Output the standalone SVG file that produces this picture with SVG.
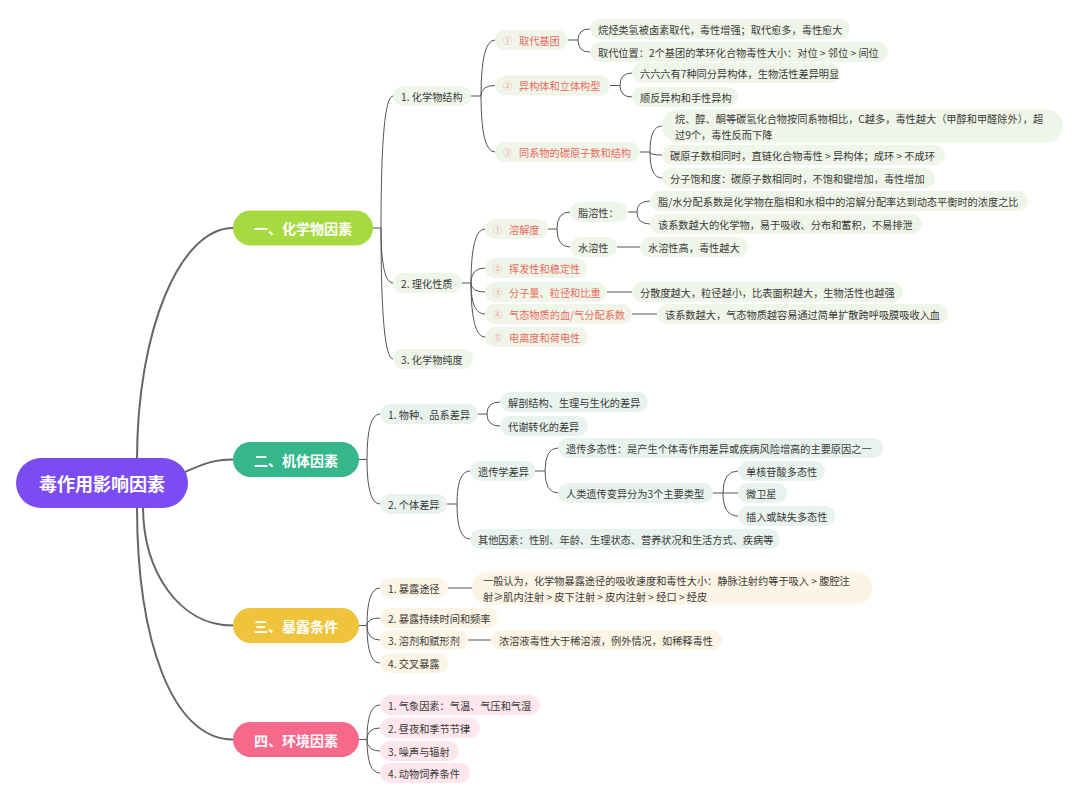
<svg xmlns="http://www.w3.org/2000/svg" width="1080" height="802" viewBox="0 0 1080 802">
<style>
text{font-family:"Noto Sans CJK SC","Noto Sans",sans-serif;dominant-baseline:central}
.t{font-size:10.2px;fill:#3a3a3a}
.r{font-size:10.2px;fill:#ea6b5f}
.n{font-size:9px;fill:#f2a69d}
.mt{font-size:14px;font-weight:bold;fill:#fff;text-anchor:middle}
.rt{font-size:18px;font-weight:bold;fill:#fff;text-anchor:middle}
.g{fill:#eff5e8}.b{fill:#e8f3ee}.y{fill:#fcf4e4}.p{fill:#fde6ec}
.ln{fill:none;stroke:#555;stroke-width:1}
.mn{fill:none;stroke:#666;stroke-width:2}
</style>
<rect width="1080" height="802" fill="#fff"/>
<g id="connectors">
<path class="mn" d="M137 460 C137 330 180 228 233 228"/>
<path class="mn" d="M185 472 C205 463 215 459.5 233 459.5"/>
<path class="mn" d="M143 506 C143 570 178 625.5 233 625.5"/>
<path class="mn" d="M137 506 C137 640 172 739.5 233 739.5"/>
<path class="ln" d="M373 228 H381 M381 228 Q381 96 393 96 M381 228 Q381 283 393 283 M381 228 Q381 359 393 359"/>
<path class="ln" d="M471 96 H481 M481 96 Q481 40 495 40 M481 96 Q481 85.5 495 85.5 M481 96 Q481 152 495 152"/>
<path class="ln" d="M568 40 H578 M578 40 Q578 29 590 29 M578 40 Q578 52 590 52"/>
<path class="ln" d="M610 85.5 H620 M620 85.5 Q620 73 632 73 M620 85.5 Q620 97 632 97"/>
<path class="ln" d="M640 152 H650 M650 152 Q650 126 662 126 M650 152 Q650 155 662 155 M650 152 Q650 178 662 178"/>
<path class="ln" d="M462 283 H471 M471 283 Q471 229 485 229 M471 283 Q471 268 485 268 M471 283 Q471 292 485 292 M471 283 Q471 314 485 314 M471 283 Q471 337 485 337"/>
<path class="ln" d="M548 229 H557 M557 229 Q557 212 570 212 M557 229 Q557 247 570 247"/>
<path class="ln" d="M628 212 H637 M637 212 Q637 201 650 201 M637 212 Q637 224 650 224"/>
<path class="ln" d="M617 247 H640 M607 292 H632 M632 314 H657"/>
<path class="ln" d="M359 459.5 H367 M367 459.5 Q367 414 380 414 M367 459.5 Q367 504 380 504"/>
<path class="ln" d="M478 414 H487 M487 414 Q487 402 500 402 M487 414 Q487 426 500 426"/>
<path class="ln" d="M447 504 H457 M457 504 Q457 471 470 471 M457 504 Q457 539 470 539"/>
<path class="ln" d="M535 471 H545 M545 471 Q545 448 558 448 M545 471 Q545 493 558 493"/>
<path class="ln" d="M713 493 H723 M723 493 Q723 471 738 471 M723 493 Q723 493 738 493 M723 493 Q723 516 738 516"/>
<path class="ln" d="M359 625.5 H367 M367 625.5 Q367 588 380 588 M367 625.5 Q367 618 380 618 M367 625.5 Q367 640 380 640 M367 625.5 Q367 663 380 663"/>
<path class="ln" d="M448 588 H472 M468 640 H491"/>
<path class="ln" d="M359 739.5 H367 M367 739.5 Q367 705 380 705 M367 739.5 Q367 728 380 728 M367 739.5 Q367 751 380 751 M367 739.5 Q367 773 380 773"/>
</g>
<g id="root"><rect x="16" y="458" width="172" height="50" rx="25" fill="#7c4cf3"/><text class="rt" x="102" y="483">毒作用影响因素</text></g>
<g id="m1"><rect x="233" y="210.5" width="140" height="35" rx="17.5" fill="#a7da40"/><text class="mt" x="303" y="228">一、化学物因素</text></g>
<g id="m2"><rect x="233" y="442" width="126" height="35" rx="17.5" fill="#35b78b"/><text class="mt" x="296" y="459.5">二、机体因素</text></g>
<g id="m3"><rect x="233" y="608" width="126" height="35" rx="17.5" fill="#f0c33c"/><text class="mt" x="296" y="625.5">三、暴露条件</text></g>
<g id="m4"><rect x="233" y="722" width="126" height="35" rx="17.5" fill="#f7698b"/><text class="mt" x="296" y="739.5">四、环境因素</text></g>

<g id="a1"><rect class="g" x="393" y="86" width="78" height="20" rx="10"/><text class="t" x="401" y="96">1. 化学物结构</text></g>
<g id="a2"><rect class="g" x="393" y="273" width="69" height="20" rx="10"/><text class="t" x="401" y="283">2. 理化性质</text></g>
<g id="a3"><rect class="g" x="393" y="349" width="80" height="20" rx="10"/><text class="t" x="401" y="359">3. 化学物纯度</text></g>

<g id="b1"><rect class="g" x="495" y="30" width="73" height="20" rx="10"/><text class="n" x="503" y="40">①</text><text class="r" x="519" y="40">取代基团</text></g>
<g id="b2"><rect class="g" x="495" y="75.5" width="115" height="20" rx="10"/><text class="n" x="503" y="85.5">②</text><text class="r" x="519" y="85.5">异构体和立体构型</text></g>
<g id="b3"><rect class="g" x="495" y="142" width="145" height="20" rx="10"/><text class="n" x="503" y="152">③</text><text class="r" x="519" y="152">同系物的碳原子数和结构</text></g>

<g id="b1c1"><rect class="g" x="590" y="19" width="260" height="20" rx="10"/><text class="t" x="598" y="29">烷烃类氢被卤素取代，毒性增强；取代愈多，毒性愈大</text></g>
<g id="b1c2"><rect class="g" x="590" y="42" width="298" height="20" rx="10"/><text class="t" x="598" y="52">取代位置：2个基团的苯环化合物毒性大小：对位 &gt; 邻位 &gt; 间位</text></g>
<g id="b2c1"><rect class="g" x="632" y="63" width="208" height="20" rx="10"/><text class="t" x="640" y="73">六六六有7种同分异构体，生物活性差异明显</text></g>
<g id="b2c2"><rect class="g" x="632" y="87" width="106" height="20" rx="10"/><text class="t" x="640" y="97">顺反异构和手性异构</text></g>
<g id="b3c1"><rect class="g" x="662" y="109.5" width="401" height="33" rx="16"/><text class="t" x="675" y="118.5">烷、醇、酮等碳氢化合物按同系物相比，C越多，毒性越大（甲醇和甲醛除外），超<tspan x="675" dy="15">过9个，毒性反而下降</tspan></text></g>
<g id="b3c2"><rect class="g" x="662" y="145" width="283" height="20" rx="10"/><text class="t" x="670" y="155">碳原子数相同时，直链化合物毒性 &gt; 异构体；成环 &gt; 不成环</text></g>
<g id="b3c3"><rect class="g" x="662" y="168" width="273" height="20" rx="10"/><text class="t" x="670" y="178">分子饱和度：碳原子数相同时，不饱和键增加，毒性增加</text></g>

<g id="d1"><rect class="g" x="485" y="219" width="63" height="20" rx="10"/><text class="n" x="493" y="229">①</text><text class="r" x="509" y="229">溶解度</text></g>
<g id="d2"><rect class="g" x="485" y="258" width="102" height="20" rx="10"/><text class="n" x="493" y="268">②</text><text class="r" x="509" y="268">挥发性和稳定性</text></g>
<g id="d3"><rect class="g" x="485" y="282" width="122" height="20" rx="10"/><text class="n" x="493" y="292">③</text><text class="r" x="509" y="292">分子量、粒径和比重</text></g>
<g id="d4"><rect class="g" x="485" y="304" width="147" height="20" rx="10"/><text class="n" x="493" y="314">④</text><text class="r" x="509" y="314">气态物质的血/气分配系数</text></g>
<g id="d5"><rect class="g" x="485" y="327" width="103" height="20" rx="10"/><text class="n" x="493" y="337">⑤</text><text class="r" x="509" y="337">电离度和荷电性</text></g>

<g id="e1"><rect class="g" x="570" y="202" width="58" height="20" rx="10"/><text class="t" x="578" y="212">脂溶性：</text></g>
<g id="e2"><rect class="g" x="570" y="237" width="47" height="20" rx="10"/><text class="t" x="578" y="247">水溶性</text></g>
<g id="e1c1"><rect class="g" x="650" y="191" width="378" height="20" rx="10"/><text class="t" x="658" y="201">脂/水分配系数是化学物在脂相和水相中的溶解分配率达到动态平衡时的浓度之比</text></g>
<g id="e1c2"><rect class="g" x="650" y="214" width="272" height="20" rx="10"/><text class="t" x="658" y="224">该系数越大的化学物，易于吸收、分布和蓄积，不易排泄</text></g>
<g id="e2c1"><rect class="g" x="640" y="237" width="108" height="20" rx="10"/><text class="t" x="648" y="247">水溶性高，毒性越大</text></g>
<g id="d3c1"><rect class="g" x="632" y="282" width="271" height="20" rx="10"/><text class="t" x="640" y="292">分散度越大，粒径越小，比表面积越大，生物活性也越强</text></g>
<g id="d4c1"><rect class="g" x="657" y="304" width="291" height="20" rx="10"/><text class="t" x="665" y="314">该系数越大，气态物质越容易通过简单扩散跨呼吸膜吸收入血</text></g>

<g id="f1"><rect class="b" x="380" y="404" width="98" height="20" rx="10"/><text class="t" x="388" y="414">1. 物种、品系差异</text></g>
<g id="f2"><rect class="b" x="380" y="494" width="67" height="20" rx="10"/><text class="t" x="388" y="504">2. 个体差异</text></g>
<g id="f1c1"><rect class="b" x="500" y="392" width="148" height="20" rx="10"/><text class="t" x="508" y="402">解剖结构、生理与生化的差异</text></g>
<g id="f1c2"><rect class="b" x="500" y="416" width="88" height="20" rx="10"/><text class="t" x="508" y="426">代谢转化的差异</text></g>
<g id="g1"><rect class="b" x="470" y="461" width="65" height="20" rx="10"/><text class="t" x="478" y="471">遗传学差异</text></g>
<g id="g2"><rect class="b" x="470" y="529" width="310" height="20" rx="10"/><text class="t" x="478" y="539">其他因素：性别、年龄、生理状态、营养状况和生活方式、疾病等</text></g>
<g id="g1c1"><rect class="b" x="558" y="438" width="325" height="20" rx="10"/><text class="t" x="566" y="448">遗传多态性：是产生个体毒作用差异或疾病风险增高的主要原因之一</text></g>
<g id="g1c2"><rect class="b" x="558" y="483" width="155" height="20" rx="10"/><text class="t" x="566" y="493">人类遗传变异分为3个主要类型</text></g>
<g id="h1"><rect class="b" x="738" y="461" width="87" height="20" rx="10"/><text class="t" x="746" y="471">单核苷酸多态性</text></g>
<g id="h2"><rect class="b" x="738" y="483" width="49" height="20" rx="10"/><text class="t" x="746" y="493">微卫星</text></g>
<g id="h3"><rect class="b" x="738" y="506" width="97" height="20" rx="10"/><text class="t" x="746" y="516">插入或缺失多态性</text></g>

<g id="i1"><rect class="y" x="380" y="578" width="68" height="20" rx="10"/><text class="t" x="388" y="588">1. 暴露途径</text></g>
<g id="i2"><rect class="y" x="380" y="608" width="118" height="20" rx="10"/><text class="t" x="388" y="618">2. 暴露持续时间和频率</text></g>
<g id="i3"><rect class="y" x="380" y="630" width="88" height="20" rx="10"/><text class="t" x="388" y="640">3. 溶剂和赋形剂</text></g>
<g id="i4"><rect class="y" x="380" y="653" width="68" height="20" rx="10"/><text class="t" x="388" y="663">4. 交叉暴露</text></g>
<g id="i1c1"><rect class="y" x="472" y="571.5" width="400" height="33" rx="16"/><text class="t" x="483" y="580.5">一般认为，化学物暴露途径的吸收速度和毒性大小：静脉注射约等于吸入 &gt; 腹腔注<tspan x="483" dy="15">射≥肌内注射 &gt; 皮下注射 &gt; 皮内注射 &gt; 经口 &gt; 经皮</tspan></text></g>
<g id="i3c1"><rect class="y" x="491" y="630" width="231" height="20" rx="10"/><text class="t" x="499" y="640">浓溶液毒性大于稀溶液，例外情况，如稀释毒性</text></g>

<g id="j1"><rect class="p" x="380" y="695" width="160" height="20" rx="10"/><text class="t" x="388" y="705">1. 气象因素：气温、气压和气湿</text></g>
<g id="j2"><rect class="p" x="380" y="718" width="100" height="20" rx="10"/><text class="t" x="388" y="728">2. 昼夜和季节节律</text></g>
<g id="j3"><rect class="p" x="380" y="741" width="79" height="20" rx="10"/><text class="t" x="388" y="751">3. 噪声与辐射</text></g>
<g id="j4"><rect class="p" x="380" y="763" width="90" height="20" rx="10"/><text class="t" x="388" y="773">4. 动物饲养条件</text></g>
</svg>
